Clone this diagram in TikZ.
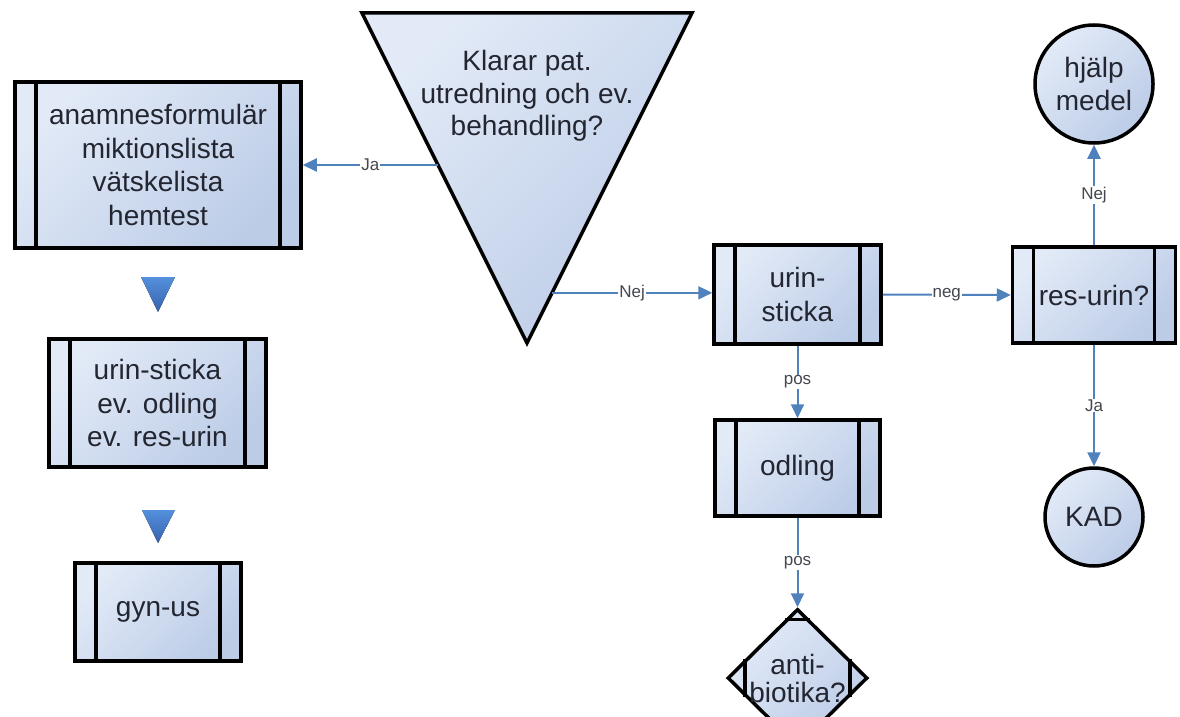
\documentclass[tikz,border=0pt]{standalone}
\usepackage{fontspec}
\setmainfont{Liberation Sans}
\usetikzlibrary{calc,shapes.geometric,arrows.meta}

\definecolor{boxhi}{RGB}{226,234,247}
\definecolor{boxlo}{RGB}{188,204,231}
\definecolor{linkblue}{RGB}{79,129,189}
\definecolor{markhi}{RGB}{84,144,220}
\definecolor{marklo}{RGB}{56,98,172}
\definecolor{ink}{RGB}{35,38,48}

\tikzset{
  shapefill/.style={top color=boxhi, bottom color=boxlo, shading angle=45,
    draw=black, line width=3.5pt, text=ink, align=center,
    font=\fontsize{28}{33.5}\selectfont},
  subproc/.style={shapefill, rectangle, inner sep=0pt,
    path picture={
      \draw[line width=3.5pt] ([xshift=21pt]path picture bounding box.north west)
        -- ([xshift=21pt]path picture bounding box.south west);
      \draw[line width=3.5pt] ([xshift=-21pt]path picture bounding box.north east)
        -- ([xshift=-21pt]path picture bounding box.south east);}},
  endpt/.style={shapefill, circle, inner sep=0pt},
  marker/.style={top color=markhi, bottom color=marklo},
  link/.style={draw=linkblue, line width=2pt, -{Triangle[length=14pt,width=13pt]}},
  lbl/.style={fill=white, text=ink!85, inner sep=1pt, font=\fontsize{17}{17}\selectfont}
}

\begin{document}
\begin{tikzpicture}[x=1pt,y=-1pt]
  \useasboundingbox (0,0) rectangle (1180,717);

  % left column
  \node[subproc, minimum width=286pt, minimum height=166pt] (anam) at (158,165)
    {anamnesformulär\\miktionslista\\vätskelista\\hemtest};
  \node[subproc, minimum width=217pt, minimum height=128pt] (sticka1) at (157.5,403)
    {urin-sticka\\ev. odling\\ev. res-urin};
  \node[subproc, minimum width=166pt, minimum height=98pt] (gyn) at (158,612) {gyn-us};
  \fill[marker] (141,277) -- (175,277) -- (158,312) -- cycle;
  \fill[marker] (142,510) -- (175,510) -- (158,543) -- cycle;

  % decision triangle
  \coordinate (kTL) at (362,13);
  \coordinate (kTR) at (692,13);
  \coordinate (kB) at (527,343);
  \draw[top color=boxhi, bottom color=boxlo, shading angle=45, line width=3.5pt]
    (kTL) -- (kTR) -- (kB) -- cycle;
  \node[text=ink, align=center, font=\fontsize{28}{32.5}\selectfont] (klarar) at (527,96)
    {Klarar pat.\\utredning och ev.\\behandling?};
  \coordinate (kJa) at ($(kTL)!.4606!(kB)$);
  \coordinate (kNej) at ($(kTR)!.848!(kB)$);

  % right part
  \node[subproc, minimum width=167pt, minimum height=99pt] (sticka) at (797.5,294.5) {urin-\\sticka};
  \node[subproc, minimum width=165pt, minimum height=96pt] (odl) at (797.5,468) {odling};
  \node[subproc, minimum width=163pt, minimum height=96pt] (res) at (1094,295) {res-urin?};
  \node[endpt, minimum size=118pt] (hjalp) at (1094,84) {hjälp\\medel};
  \node[endpt, minimum size=98pt] (kad) at (1094,517) {KAD};

  \node[shapefill, diamond, inner sep=0pt, minimum width=140pt, minimum height=138pt] (anti) at (797.5,678) {};
  \draw[line width=3.5pt]
    ($(anti.north)!.17!(anti.west)$) -- ($(anti.north)!.17!(anti.east)$)
    ($(anti.south)!.17!(anti.west)$) -- ($(anti.south)!.17!(anti.east)$)
    ($(anti.west)!.27!(anti.north)$) -- ($(anti.west)!.27!(anti.south)$)
    ($(anti.east)!.27!(anti.north)$) -- ($(anti.east)!.27!(anti.south)$);
  \node[text=ink, align=center, font=\fontsize{28}{28}\selectfont] (antitxt) at (anti) {anti-\\biotika?};

  % connectors
  \draw[link] (kJa) -- node[lbl] {Ja} (anam.east |- kJa);
  \draw[link] (kNej) -- node[lbl] {Nej} (sticka.west |- kNej);
  \draw[link] (sticka.east) -- node[lbl] {neg} (res.west);
  \draw[link] (sticka) -- node[lbl] {pos} (odl);
  \draw[link] (odl) -- node[lbl] {pos} (anti);
  \draw[link] (res) -- node[lbl] {Nej} (hjalp);
  \draw[link] (res) -- node[lbl] {Ja} (kad);
\end{tikzpicture}
\end{document}
